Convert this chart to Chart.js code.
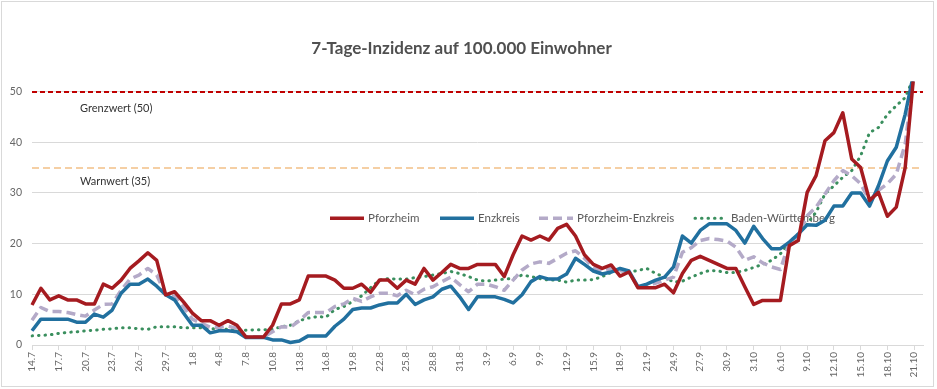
<!DOCTYPE html>
<html>
<head>
<meta charset="utf-8">
<script src="https://cdn.jsdelivr.net/npm/chart.js@4.4.1/dist/chart.umd.min.js"></script>
<style>
  html, body { margin: 0; padding: 0; background: #fff; }
</style>
</head>
<body>
<canvas id="chart" width="937" height="389"></canvas>
<script>
// one label per day, 14.7 - 22.10 (last day has no values yet)
const days = ('14.7 15.7 16.7 17.7 18.7 19.7 20.7 21.7 22.7 23.7 24.7 25.7 26.7 27.7 28.7 29.7 30.7 31.7 ' +
  '1.8 2.8 3.8 4.8 5.8 6.8 7.8 8.8 9.8 10.8 11.8 12.8 13.8 14.8 15.8 16.8 17.8 18.8 19.8 20.8 21.8 22.8 23.8 24.8 25.8 26.8 27.8 28.8 29.8 30.8 31.8 ' +
  '1.9 2.9 3.9 4.9 5.9 6.9 7.9 8.9 9.9 10.9 11.9 12.9 13.9 14.9 15.9 16.9 17.9 18.9 19.9 20.9 21.9 22.9 23.9 24.9 25.9 26.9 27.9 28.9 29.9 30.9 ' +
  '1.10 2.10 3.10 4.10 5.10 6.10 7.10 8.10 9.10 10.10 11.10 12.10 13.10 14.10 15.10 16.10 17.10 18.10 19.10 20.10 21.10 22.10').split(' ');

const pforzheim = [
  7.9, 11.2, 8.9, 9.7, 8.9, 8.9, 8.1, 8.1, 12.0, 11.2,
  12.8, 15.1, 16.6, 18.2, 16.7, 9.9, 10.5, 8.5, 6.3, 4.8,
  4.8, 3.9, 4.8, 3.9, 1.6, 1.6, 1.6, 3.9, 8.1, 8.1,
  8.9, 13.6, 13.6, 13.6, 12.8, 11.2, 11.2, 12.0, 10.4, 12.8,
  12.8, 11.2, 12.8, 12.0, 15.1, 12.8, 14.3, 15.9, 15.1, 15.1,
  15.9, 15.9, 15.9, 13.5, 17.8, 21.5, 20.7, 21.5, 20.7, 23.0,
  23.8, 21.5, 17.8, 15.9, 15.1, 15.8, 13.6, 14.4, 11.3, 11.3,
  11.3, 12.0, 10.3, 14.1, 16.7, 17.5, 16.7, 15.9, 15.1, 15.1,
  11.5, 8.0, 8.8, 8.8, 8.8, 19.6, 20.6, 30.1, 33.4, 40.3,
  41.9, 45.8, 36.7, 35.0, 28.5, 30.1, 25.4, 27.2, 35.0, 54
];
const enzkreis = [
  2.8, 5.1, 5.1, 5.1, 5.1, 4.5, 4.5, 6.1, 5.5, 6.9,
  10.2, 12.0, 12.0, 13.0, 11.6, 9.9, 8.9, 6.3, 3.9, 3.9,
  2.4, 2.8, 2.8, 2.6, 1.5, 1.5, 1.5, 1.0, 1.0, 0.5,
  0.8, 1.8, 1.8, 1.8, 3.7, 5.1, 7.0, 7.3, 7.3, 7.9,
  8.3, 8.3, 10.0, 8.0, 8.9, 9.5, 11.0, 11.6, 9.5, 7.0,
  9.5, 9.5, 9.5, 9.0, 8.3, 9.9, 12.5, 13.5, 13.0, 13.0,
  14.0, 17.1, 15.9, 14.6, 14.0, 14.4, 15.1, 14.6, 11.5, 12.0,
  12.8, 13.4, 15.4, 21.5, 20.1, 22.6, 23.9, 23.9, 23.9, 22.6,
  20.1, 23.4, 21.0, 19.0, 19.0, 20.3, 21.9, 23.7, 23.6, 24.6,
  27.4, 27.4, 30.0, 30.0, 27.4, 31.4, 36.3, 39.0, 45.5, 54
];
const pfEnz = [
  4.9, 7.4, 6.6, 6.6, 6.4, 6.0, 5.7, 6.9, 8.0, 8.1,
  10.8, 13.0, 13.8, 15.1, 13.8, 9.9, 9.6, 7.6, 5.1, 4.3,
  3.5, 3.5, 3.7, 3.3, 1.6, 1.6, 1.6, 2.6, 3.6, 3.5,
  4.8, 6.4, 6.4, 6.4, 7.6, 8.1, 9.2, 8.6, 9.5, 10.2,
  10.2, 9.7, 10.8, 9.9, 11.0, 11.5, 12.5, 13.4, 11.9, 10.5,
  12.0, 12.0, 11.5, 10.8, 12.8, 14.8, 16.0, 16.4, 16.1, 17.1,
  18.1, 18.6, 17.1, 15.3, 14.5, 15.1, 14.7, 14.4, 11.5, 11.6,
  12.2, 12.8, 13.4, 18.3, 19.2, 20.6, 21.0, 20.8, 20.5, 19.3,
  16.7, 17.4, 16.2, 15.4, 14.9, 20.3, 21.6, 25.5, 27.2, 29.8,
  32.4, 34.4, 33.4, 31.8, 28.5, 30.5, 31.8, 33.7, 39.6, 54
];
const bw = [
  1.8, 1.9, 2.0, 2.3, 2.5, 2.6, 2.8, 2.9, 3.1, 3.2,
  3.4, 3.4, 3.2, 3.1, 3.6, 3.6, 3.6, 3.4, 3.4, 3.4,
  3.2, 3.2, 3.1, 3.0, 2.9, 3.0, 3.0, 3.1, 3.6, 3.9,
  4.8, 5.3, 5.6, 5.5, 7.0, 7.6, 8.6, 9.7, 11.3, 12.8,
  13.1, 13.0, 13.0, 13.3, 13.5, 13.8, 14.1, 14.5, 14.1, 13.5,
  12.8, 12.6, 12.8, 13.0, 13.1, 13.8, 13.5, 13.1, 12.8, 12.8,
  12.4, 12.8, 12.8, 12.9, 13.5, 14.3, 14.7, 14.4, 14.7, 15.1,
  14.1, 13.4, 12.4, 12.6, 13.4, 14.1, 14.7, 14.6, 14.3, 14.3,
  14.7, 15.3, 15.9, 16.7, 18.0, 20.3, 21.9, 23.9, 26.2, 29.8,
  31.4, 33.1, 34.4, 37.3, 41.9, 42.9, 45.5, 47.2, 48.8, 53
];

const yTicks = [0, 10, 20, 30, 40, 50];
const GRENZWERT = 50;
const WARNWERT = 35;
const FONT = 'Lato, "Open Sans", sans-serif';

// threshold lines with their captions
const refLines = {
  id: 'refLines',
  beforeDatasetsDraw(chart) {
    const { ctx, chartArea: a, scales: { y } } = chart;
    const lines = [
      { v: GRENZWERT, color: '#C00000', w: 2, dash: [5, 3], text: 'Grenzwert (50)', dy: 16 },
      { v: WARNWERT, color: '#F2C087', w: 1.5, dash: [7, 4], text: 'Warnwert (35)', dy: 13 }
    ];
    ctx.save();
    lines.forEach(l => {
      const py = Math.round(y.getPixelForValue(l.v));
      ctx.beginPath();
      ctx.setLineDash(l.dash);
      ctx.lineWidth = l.w;
      ctx.strokeStyle = l.color;
      ctx.moveTo(a.left, py);
      ctx.lineTo(a.right, py);
      ctx.stroke();
      ctx.setLineDash([]);
      ctx.fillStyle = '#333';
      ctx.font = '11px ' + FONT;
      ctx.textBaseline = 'middle';
      ctx.textAlign = 'left';
      ctx.fillText(l.text, a.left + 48, py + l.dy);
    });
    ctx.restore();
  }
};

// legend sits inside the plot, around the 25 line
const innerLegend = {
  id: 'innerLegend',
  beforeDatasetsDraw(chart) {
    const { ctx, chartArea: a, scales: { y } } = chart;
    const starts = [298, 408, 507, 661];
    const py = y.getPixelForValue(25);
    ctx.save();
    chart.data.datasets.forEach((ds, i) => {
      const x0 = a.left + starts[i];
      ctx.beginPath();
      ctx.strokeStyle = ds.borderColor;
      ctx.lineWidth = ds.borderWidth;
      ctx.lineCap = ds.borderCapStyle || 'butt';
      ctx.setLineDash(ds.borderDash || []);
      ctx.moveTo(x0 + (ds.borderCapStyle === 'round' ? 2 : 0), py);
      ctx.lineTo(x0 + 34, py);
      ctx.stroke();
      ctx.setLineDash([]);
      ctx.fillStyle = '#595959';
      ctx.font = '11.5px ' + FONT;
      ctx.textBaseline = 'middle';
      ctx.textAlign = 'left';
      ctx.fillText(ds.label, x0 + 38, py);
    });
    ctx.restore();
  }
};

const frame = {
  id: 'frame',
  afterDraw(chart) {
    const ctx = chart.ctx;
    ctx.save();
    ctx.strokeStyle = '#d9d9d9';
    ctx.lineWidth = 1;
    ctx.strokeRect(1.5, 1.5, 932, 385);
    ctx.restore();
  }
};

new Chart(document.getElementById('chart'), {
  type: 'line',
  data: {
    labels: days,
    datasets: [
      { label: 'Pforzheim', data: pforzheim, borderColor: '#A51B20', borderWidth: 3.5 },
      { label: 'Enzkreis', data: enzkreis, borderColor: '#21709F', borderWidth: 3.5 },
      { label: 'Pforzheim-Enzkreis', data: pfEnz, borderColor: '#B4AAC8', borderWidth: 3.5, borderDash: [9, 5] },
      { label: 'Baden-Württemberg', data: bw, borderColor: '#3A8F5E', borderWidth: 3, borderDash: [0.5, 6], borderCapStyle: 'round' }
    ]
  },
  options: {
    responsive: false,
    animation: false,
    devicePixelRatio: 1,
    layout: { padding: { left: 0, right: 14, top: 0, bottom: 0 } },
    elements: {
      point: { radius: 0 },
      line: { tension: 0, borderJoinStyle: 'round', fill: false }
    },
    plugins: {
      legend: { display: false },
      tooltip: { enabled: false },
      title: {
        display: true,
        text: '7-Tage-Inzidenz auf 100.000 Einwohner',
        color: '#505050',
        font: { family: FONT, size: 17, weight: 'bold' },
        padding: { top: 38, bottom: 23 }
      }
    },
    scales: {
      x: {
        grid: { drawOnChartArea: false, drawTicks: true, tickLength: 5, color: '#d9d9d9' },
        border: { color: '#d9d9d9' },
        ticks: {
          autoSkip: false, maxRotation: 90, minRotation: 90, padding: 2,
          color: '#666', font: { family: FONT, size: 10 }
        },
        afterBuildTicks: s => { s.ticks = s.ticks.filter(t => t.value % 3 === 0 && t.value < pforzheim.length); },
        afterFit: s => { s.height = 44; }
      },
      y: {
        min: 0,
        max: 52,
        border: { display: false },
        grid: { color: '#d9d9d9', drawTicks: false },
        ticks: { stepSize: 10, includeBounds: false, padding: 10, color: '#666', font: { family: FONT, size: 10.5 } },
        afterBuildTicks: s => { s.ticks = yTicks.map(v => ({ value: v })); },
        afterFit: s => { s.width = 32; }
      }
    }
  },
  plugins: [refLines, innerLegend, frame]
});
</script>
</body>
</html>
